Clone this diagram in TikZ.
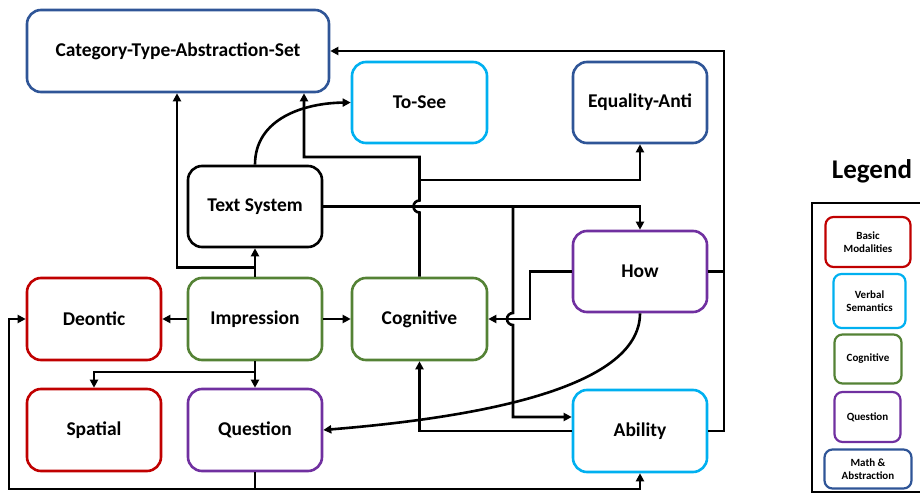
\documentclass[tikz,border=0pt]{standalone}
\usepackage{fontspec}
\setmainfont{Carlito}
\usetikzlibrary{arrows.meta}
\definecolor{cred}{HTML}{C00000}
\definecolor{cblue}{HTML}{00B0F0}
\definecolor{cgreen}{HTML}{548235}
\definecolor{cpurple}{HTML}{7030A0}
\definecolor{cdark}{HTML}{2F5597}
\tikzset{
  box/.style={draw, line width=2.6pt, rounded corners=14pt, fill=white, align=center,
    font=\fontsize{19.5}{23}\selectfont\bfseries, minimum width=134pt, minimum height=81pt, inner sep=0pt},
  lbox/.style={draw, line width=2.2pt, rounded corners=8pt, fill=white, align=center,
    font=\fontsize{11}{13.5}\selectfont\bfseries, inner sep=0pt},
  conn/.style={line width=2.6pt},
  arr/.style={line width=2.6pt, -{Triangle[length=8pt,width=8pt]}}
}
\begin{document}
\begin{tikzpicture}[x=1pt,y=-1pt]
\useasboundingbox (0,0) rectangle (920,502);
% main nodes
\node[box, draw=cdark, minimum width=302pt, minimum height=82pt] (cat) at (178,51) {Category-Type-Abstraction-Set};
\node[box, draw=cblue, minimum width=135pt] (tosee) at (419.5,102.5) {To-See};
\node[box, draw=cdark] (eq) at (640,102.5) {Equality-Anti};
\node[box, draw=black, minimum height=81pt] (ts) at (255,206.5) {Text System};
\node[box, draw=cpurple] (how) at (640,271.5) {How};
\node[box, draw=cred, minimum height=82pt] (deon) at (94,319) {Deontic};
\node[box, draw=cgreen, minimum height=82pt] (impr) at (255,319) {Impression};
\node[box, draw=cgreen, minimum width=135pt, minimum height=82pt] (cog) at (419.5,319) {Cognitive};
\node[box, draw=cred, minimum height=82pt] (spat) at (94,430) {Spatial};
\node[box, draw=cpurple, minimum height=82pt] (quest) at (255,430) {Question};
\node[box, draw=cblue, minimum height=82pt] (abil) at (640,431) {Ability};
% legend
\node[font=\fontsize{27}{32}\selectfont\bfseries] (legt) at (872,171) {Legend};
\draw[line width=2pt] (921,203) -- (812,203) -- (812,492) -- (921,492);
\node[lbox, draw=cred, minimum width=85pt, minimum height=50pt] (l1) at (868,242) {Basic\\Modalities};
\node[lbox, draw=cblue, minimum width=72pt, minimum height=54pt] (l2) at (869.5,301) {Verbal\\Semantics};
\node[lbox, draw=cgreen, minimum width=67pt, minimum height=49pt] (l3) at (868,359) {Cognitive};
\node[lbox, draw=cpurple, minimum width=66pt, minimum height=50pt] (l4) at (867.5,417) {Question};
\node[lbox, draw=cdark, minimum width=87pt, minimum height=39pt] (l5) at (868,469) {Math \&\\Abstraction};
% connectors
\draw[arr] (impr.north) -- (ts.south);
\draw[arr] (impr.north) ++(0,-9) -| (177,0 |- cat.south);
\draw[arr] (ts.north) .. controls (255,118) and (305,103) .. (tosee.west);
\draw[arr] (cog.north) -- (cog.north |- 0,212.5) arc[start angle=90, end angle=270, radius=6] -- (cog.north |- 0,157) -| (304,0 |- cat.south);
\draw[arr] (cog.north |- 0,180) -| (eq.south);
\draw[arr] (ts.east) -| (how.north);
\draw[arr] (513,0 |- ts.east) -- (513,313) arc[start angle=-90, end angle=-270, radius=6] -- (513,417) -- (abil.west |- 0,417);
\draw[arr] (how.west) -- (530,0 |- how.west) |- (cog.east);
\draw[arr] (how.south) .. controls (640,390) and (470,418) .. (quest.east);
\draw[conn] (how.east) -- (724,0 |- how.east);
\draw[arr] (abil.east) -- (724,0 |- abil.east) -- (724,0 |- cat.east) -- (cat.east);
\draw[arr] (impr.west) -- (deon.east);
\draw[arr] (impr.east) -- (cog.west);
\draw[arr] (impr.south) -- (quest.north);
\draw[arr] (impr.south |- 0,372) -| (spat.north);
\draw[arr] (quest.south) |- (9,489) |- (deon.west);
\draw[arr] (quest.south |- 0,489) -| (abil.south);
\draw[arr] (abil.west) -| (cog.south);
\end{tikzpicture}
\end{document}
